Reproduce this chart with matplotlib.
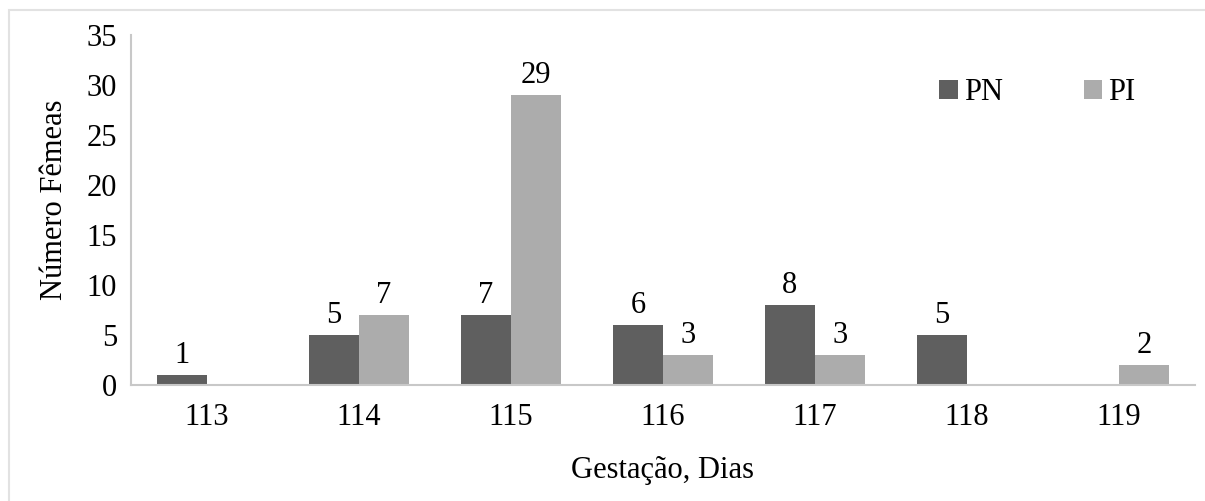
import numpy as np
import matplotlib
matplotlib.use('Agg')
import matplotlib.pyplot as plt
from matplotlib.patches import Rectangle

plt.rcParams['font.family'] = 'Liberation Serif'

dias = ['113', '114', '115', '116', '117', '118', '119']
pn = [1, 5, 7, 6, 8, 5, 0]
pi = [0, 7, 29, 3, 3, 0, 2]

cor_pn = '#5f5f5f'
cor_pi = '#acacac'
fs = 22

fig = plt.figure(figsize=(12.05, 5.01), dpi=100)
ax = fig.add_axes((0.1087, 0.2315, 0.8830, 0.6985))

# moldura clara em volta do grafico
fig.patches.append(Rectangle((9/1205, -0.1), 1.2, 1.1 - 10/501,
                             transform=fig.transFigure, fill=False,
                             edgecolor='#e2e2e2', lw=1.5))

x = np.arange(len(dias))
w = 0.33
b1 = ax.bar(x - w/2, pn, w, color=cor_pn, label='PN')
b2 = ax.bar(x + w/2, pi, w, color=cor_pi, label='PI')

for barras, vals in [(b1, pn), (b2, pi)]:
    for r, v in zip(barras, vals):
        if v == 0:
            continue
        ax.text(r.get_x() + r.get_width()/2, v + 0.5, str(v),
                ha='center', va='bottom', fontsize=fs)

ax.set_xlim(-0.5, len(dias) - 0.5)
ax.set_ylim(0, 35)
ax.set_yticks(np.arange(0, 36, 5))
ax.set_xticks(x)
ax.set_xticklabels(dias)
ax.tick_params(axis='both', length=0, labelsize=fs)
ax.tick_params(axis='x', pad=13)
ax.tick_params(axis='y', pad=10)

for s in ['top', 'right']:
    ax.spines[s].set_visible(False)
for s in ['left', 'bottom']:
    ax.spines[s].set_color('#c8c8c8')
    ax.spines[s].set_linewidth(1.5)

ax.set_xlabel('Gestação, Dias', fontsize=fs, labelpad=17)
ax.set_ylabel('Número Fêmeas', fontsize=fs)
ax.yaxis.set_label_coords(-0.058, 0.53)

ax.legend(loc='upper right', bbox_to_anchor=(0.97, 0.955), ncol=2,
          frameon=False, fontsize=fs, handlelength=0.6, handleheight=0.6,
          handletextpad=0.2, columnspacing=2.65)

plt.savefig('out.png', dpi=100)
